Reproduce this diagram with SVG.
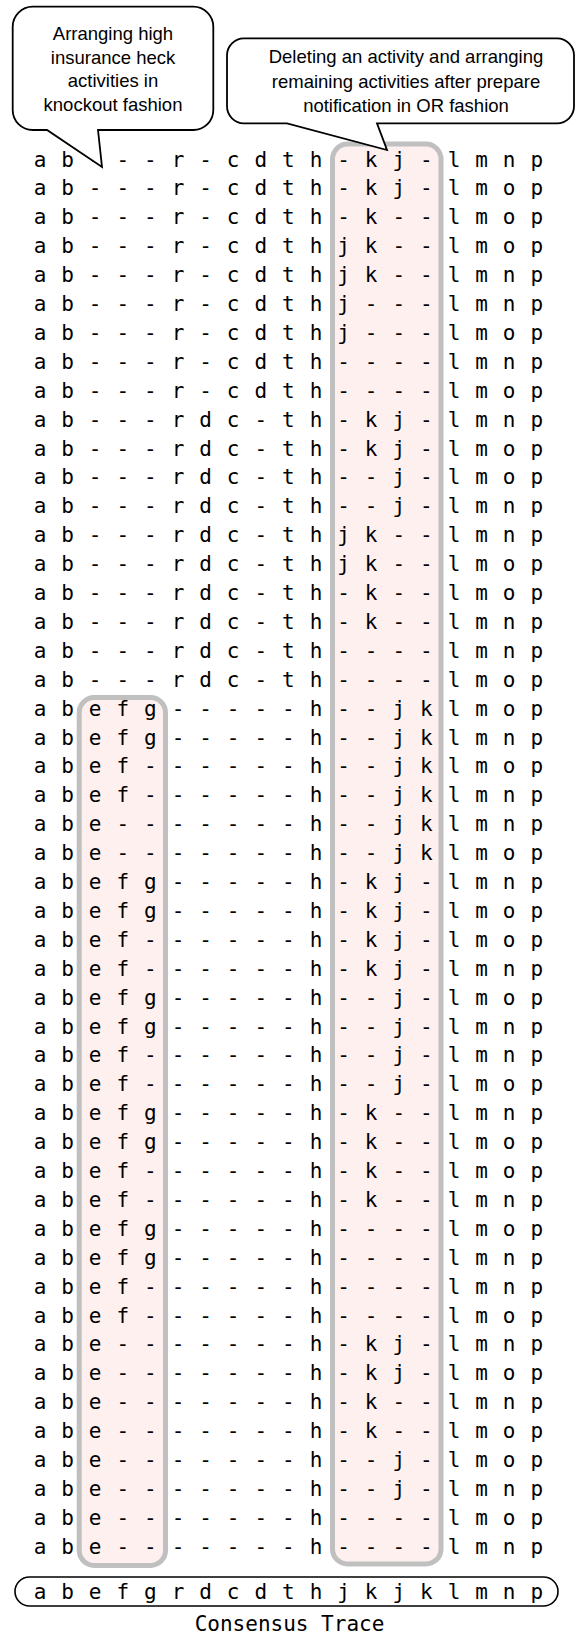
<svg xmlns="http://www.w3.org/2000/svg" width="579" height="1636" viewBox="0 0 579 1636">
<style>
.row{font-family:"DejaVu Sans Mono",monospace;font-size:21px;fill:#000;text-anchor:middle}
.hl{fill:#fff0f0;stroke:#c0c0c0;stroke-width:5}
.call{fill:#fff;stroke:#000;stroke-width:1.8;stroke-linejoin:miter}
.ct{font-family:"Liberation Sans",Arial,sans-serif;font-size:18.5px;fill:#000;text-anchor:middle}
.cap{font-family:"DejaVu Sans Mono",monospace;font-size:21px;fill:#000;text-anchor:middle}
</style>
<rect width="579" height="1636" fill="#fff"/>
<g id="highlight-right"><rect class="hl" x="332.5" y="144" width="108.5" height="1420" rx="15"/></g>
<g id="highlight-left"><rect class="hl" x="79.2" y="697.5" width="86.3" height="868" rx="15"/></g>
<g id="traces">
<text class="row" x="40 67.6 95.2 122.8 150.4 178 205.6 233.2 260.8 288.4 316 343.6 371.2 398.8 426.4 454 481.6 509.2 536.8" y="166.5">ab---r-cdth-kj-lmnp</text>
<text class="row" x="40 67.6 95.2 122.8 150.4 178 205.6 233.2 260.8 288.4 316 343.6 371.2 398.8 426.4 454 481.6 509.2 536.8" y="195.4">ab---r-cdth-kj-lmop</text>
<text class="row" x="40 67.6 95.2 122.8 150.4 178 205.6 233.2 260.8 288.4 316 343.6 371.2 398.8 426.4 454 481.6 509.2 536.8" y="224.3">ab---r-cdth-k--lmop</text>
<text class="row" x="40 67.6 95.2 122.8 150.4 178 205.6 233.2 260.8 288.4 316 343.6 371.2 398.8 426.4 454 481.6 509.2 536.8" y="253.2">ab---r-cdthjk--lmop</text>
<text class="row" x="40 67.6 95.2 122.8 150.4 178 205.6 233.2 260.8 288.4 316 343.6 371.2 398.8 426.4 454 481.6 509.2 536.8" y="282.1">ab---r-cdthjk--lmnp</text>
<text class="row" x="40 67.6 95.2 122.8 150.4 178 205.6 233.2 260.8 288.4 316 343.6 371.2 398.8 426.4 454 481.6 509.2 536.8" y="311">ab---r-cdthj---lmnp</text>
<text class="row" x="40 67.6 95.2 122.8 150.4 178 205.6 233.2 260.8 288.4 316 343.6 371.2 398.8 426.4 454 481.6 509.2 536.8" y="339.9">ab---r-cdthj---lmop</text>
<text class="row" x="40 67.6 95.2 122.8 150.4 178 205.6 233.2 260.8 288.4 316 343.6 371.2 398.8 426.4 454 481.6 509.2 536.8" y="368.8">ab---r-cdth----lmnp</text>
<text class="row" x="40 67.6 95.2 122.8 150.4 178 205.6 233.2 260.8 288.4 316 343.6 371.2 398.8 426.4 454 481.6 509.2 536.8" y="397.7">ab---r-cdth----lmop</text>
<text class="row" x="40 67.6 95.2 122.8 150.4 178 205.6 233.2 260.8 288.4 316 343.6 371.2 398.8 426.4 454 481.6 509.2 536.8" y="426.6">ab---rdc-th-kj-lmnp</text>
<text class="row" x="40 67.6 95.2 122.8 150.4 178 205.6 233.2 260.8 288.4 316 343.6 371.2 398.8 426.4 454 481.6 509.2 536.8" y="455.5">ab---rdc-th-kj-lmop</text>
<text class="row" x="40 67.6 95.2 122.8 150.4 178 205.6 233.2 260.8 288.4 316 343.6 371.2 398.8 426.4 454 481.6 509.2 536.8" y="484.4">ab---rdc-th--j-lmop</text>
<text class="row" x="40 67.6 95.2 122.8 150.4 178 205.6 233.2 260.8 288.4 316 343.6 371.2 398.8 426.4 454 481.6 509.2 536.8" y="513.3">ab---rdc-th--j-lmnp</text>
<text class="row" x="40 67.6 95.2 122.8 150.4 178 205.6 233.2 260.8 288.4 316 343.6 371.2 398.8 426.4 454 481.6 509.2 536.8" y="542.2">ab---rdc-thjk--lmnp</text>
<text class="row" x="40 67.6 95.2 122.8 150.4 178 205.6 233.2 260.8 288.4 316 343.6 371.2 398.8 426.4 454 481.6 509.2 536.8" y="571.1">ab---rdc-thjk--lmop</text>
<text class="row" x="40 67.6 95.2 122.8 150.4 178 205.6 233.2 260.8 288.4 316 343.6 371.2 398.8 426.4 454 481.6 509.2 536.8" y="600">ab---rdc-th-k--lmop</text>
<text class="row" x="40 67.6 95.2 122.8 150.4 178 205.6 233.2 260.8 288.4 316 343.6 371.2 398.8 426.4 454 481.6 509.2 536.8" y="628.9">ab---rdc-th-k--lmnp</text>
<text class="row" x="40 67.6 95.2 122.8 150.4 178 205.6 233.2 260.8 288.4 316 343.6 371.2 398.8 426.4 454 481.6 509.2 536.8" y="657.8">ab---rdc-th----lmnp</text>
<text class="row" x="40 67.6 95.2 122.8 150.4 178 205.6 233.2 260.8 288.4 316 343.6 371.2 398.8 426.4 454 481.6 509.2 536.8" y="686.7">ab---rdc-th----lmop</text>
<text class="row" x="40 67.6 95.2 122.8 150.4 178 205.6 233.2 260.8 288.4 316 343.6 371.2 398.8 426.4 454 481.6 509.2 536.8" y="715.6">abefg-----h--jklmop</text>
<text class="row" x="40 67.6 95.2 122.8 150.4 178 205.6 233.2 260.8 288.4 316 343.6 371.2 398.8 426.4 454 481.6 509.2 536.8" y="744.5">abefg-----h--jklmnp</text>
<text class="row" x="40 67.6 95.2 122.8 150.4 178 205.6 233.2 260.8 288.4 316 343.6 371.2 398.8 426.4 454 481.6 509.2 536.8" y="773.4">abef------h--jklmop</text>
<text class="row" x="40 67.6 95.2 122.8 150.4 178 205.6 233.2 260.8 288.4 316 343.6 371.2 398.8 426.4 454 481.6 509.2 536.8" y="802.3">abef------h--jklmnp</text>
<text class="row" x="40 67.6 95.2 122.8 150.4 178 205.6 233.2 260.8 288.4 316 343.6 371.2 398.8 426.4 454 481.6 509.2 536.8" y="831.2">abe-------h--jklmnp</text>
<text class="row" x="40 67.6 95.2 122.8 150.4 178 205.6 233.2 260.8 288.4 316 343.6 371.2 398.8 426.4 454 481.6 509.2 536.8" y="860.1">abe-------h--jklmop</text>
<text class="row" x="40 67.6 95.2 122.8 150.4 178 205.6 233.2 260.8 288.4 316 343.6 371.2 398.8 426.4 454 481.6 509.2 536.8" y="889">abefg-----h-kj-lmnp</text>
<text class="row" x="40 67.6 95.2 122.8 150.4 178 205.6 233.2 260.8 288.4 316 343.6 371.2 398.8 426.4 454 481.6 509.2 536.8" y="917.9">abefg-----h-kj-lmop</text>
<text class="row" x="40 67.6 95.2 122.8 150.4 178 205.6 233.2 260.8 288.4 316 343.6 371.2 398.8 426.4 454 481.6 509.2 536.8" y="946.8">abef------h-kj-lmop</text>
<text class="row" x="40 67.6 95.2 122.8 150.4 178 205.6 233.2 260.8 288.4 316 343.6 371.2 398.8 426.4 454 481.6 509.2 536.8" y="975.7">abef------h-kj-lmnp</text>
<text class="row" x="40 67.6 95.2 122.8 150.4 178 205.6 233.2 260.8 288.4 316 343.6 371.2 398.8 426.4 454 481.6 509.2 536.8" y="1004.6">abefg-----h--j-lmop</text>
<text class="row" x="40 67.6 95.2 122.8 150.4 178 205.6 233.2 260.8 288.4 316 343.6 371.2 398.8 426.4 454 481.6 509.2 536.8" y="1033.5">abefg-----h--j-lmnp</text>
<text class="row" x="40 67.6 95.2 122.8 150.4 178 205.6 233.2 260.8 288.4 316 343.6 371.2 398.8 426.4 454 481.6 509.2 536.8" y="1062.4">abef------h--j-lmnp</text>
<text class="row" x="40 67.6 95.2 122.8 150.4 178 205.6 233.2 260.8 288.4 316 343.6 371.2 398.8 426.4 454 481.6 509.2 536.8" y="1091.3">abef------h--j-lmop</text>
<text class="row" x="40 67.6 95.2 122.8 150.4 178 205.6 233.2 260.8 288.4 316 343.6 371.2 398.8 426.4 454 481.6 509.2 536.8" y="1120.2">abefg-----h-k--lmnp</text>
<text class="row" x="40 67.6 95.2 122.8 150.4 178 205.6 233.2 260.8 288.4 316 343.6 371.2 398.8 426.4 454 481.6 509.2 536.8" y="1149.1">abefg-----h-k--lmop</text>
<text class="row" x="40 67.6 95.2 122.8 150.4 178 205.6 233.2 260.8 288.4 316 343.6 371.2 398.8 426.4 454 481.6 509.2 536.8" y="1178">abef------h-k--lmop</text>
<text class="row" x="40 67.6 95.2 122.8 150.4 178 205.6 233.2 260.8 288.4 316 343.6 371.2 398.8 426.4 454 481.6 509.2 536.8" y="1206.9">abef------h-k--lmnp</text>
<text class="row" x="40 67.6 95.2 122.8 150.4 178 205.6 233.2 260.8 288.4 316 343.6 371.2 398.8 426.4 454 481.6 509.2 536.8" y="1235.8">abefg-----h----lmop</text>
<text class="row" x="40 67.6 95.2 122.8 150.4 178 205.6 233.2 260.8 288.4 316 343.6 371.2 398.8 426.4 454 481.6 509.2 536.8" y="1264.7">abefg-----h----lmnp</text>
<text class="row" x="40 67.6 95.2 122.8 150.4 178 205.6 233.2 260.8 288.4 316 343.6 371.2 398.8 426.4 454 481.6 509.2 536.8" y="1293.6">abef------h----lmnp</text>
<text class="row" x="40 67.6 95.2 122.8 150.4 178 205.6 233.2 260.8 288.4 316 343.6 371.2 398.8 426.4 454 481.6 509.2 536.8" y="1322.5">abef------h----lmop</text>
<text class="row" x="40 67.6 95.2 122.8 150.4 178 205.6 233.2 260.8 288.4 316 343.6 371.2 398.8 426.4 454 481.6 509.2 536.8" y="1351.4">abe-------h-kj-lmnp</text>
<text class="row" x="40 67.6 95.2 122.8 150.4 178 205.6 233.2 260.8 288.4 316 343.6 371.2 398.8 426.4 454 481.6 509.2 536.8" y="1380.3">abe-------h-kj-lmop</text>
<text class="row" x="40 67.6 95.2 122.8 150.4 178 205.6 233.2 260.8 288.4 316 343.6 371.2 398.8 426.4 454 481.6 509.2 536.8" y="1409.2">abe-------h-k--lmnp</text>
<text class="row" x="40 67.6 95.2 122.8 150.4 178 205.6 233.2 260.8 288.4 316 343.6 371.2 398.8 426.4 454 481.6 509.2 536.8" y="1438.1">abe-------h-k--lmop</text>
<text class="row" x="40 67.6 95.2 122.8 150.4 178 205.6 233.2 260.8 288.4 316 343.6 371.2 398.8 426.4 454 481.6 509.2 536.8" y="1467">abe-------h--j-lmop</text>
<text class="row" x="40 67.6 95.2 122.8 150.4 178 205.6 233.2 260.8 288.4 316 343.6 371.2 398.8 426.4 454 481.6 509.2 536.8" y="1495.9">abe-------h--j-lmnp</text>
<text class="row" x="40 67.6 95.2 122.8 150.4 178 205.6 233.2 260.8 288.4 316 343.6 371.2 398.8 426.4 454 481.6 509.2 536.8" y="1524.8">abe-------h----lmop</text>
<text class="row" x="40 67.6 95.2 122.8 150.4 178 205.6 233.2 260.8 288.4 316 343.6 371.2 398.8 426.4 454 481.6 509.2 536.8" y="1553.7">abe-------h----lmnp</text>
</g>
<g id="consensus">
<rect x="15" y="1577" width="543" height="29" rx="14.5" fill="#fff" stroke="#000" stroke-width="1.6"/>
<text class="row" x="40 67.6 95.2 122.8 150.4 178 205.6 233.2 260.8 288.4 316 343.6 371.2 398.8 426.4 454 481.6 509.2 536.8" y="1599">abefgrdcdthjkjklmnp</text>
<text class="cap" x="289.5" y="1631">Consensus Trace</text>
</g>
<g id="connectors"></g>
<g id="callout-knockout">
<path class="call" d="M32.7,6.7 H193.3 A20,20 0 0 1 213.3,26.7 V110 A20,20 0 0 1 193.3,130 H98 L102,167 L47,130 H32.7 A20,20 0 0 1 12.7,110 V26.7 A20,20 0 0 1 32.7,6.7 Z"/>
<text class="ct" x="113" y="40">Arranging high</text>
<text class="ct" x="113" y="63.5">insurance heck</text>
<text class="ct" x="113" y="87">activities in</text>
<text class="ct" x="113" y="110.5">knockout fashion</text>
</g>
<g id="callout-or">
<path class="call" d="M244,38.3 H557 A17,17 0 0 1 574,55.3 V106.3 A17,17 0 0 1 557,123.3 H377 L387,150 L287,123.3 H244 A17,17 0 0 1 227,106.3 V55.3 A17,17 0 0 1 244,38.3 Z"/>
<text class="ct" x="406" y="63.3">Deleting an activity and arranging</text>
<text class="ct" x="406" y="87.5">remaining activities after prepare</text>
<text class="ct" x="406" y="111.5">notification in OR fashion</text>
</g>
</svg>
